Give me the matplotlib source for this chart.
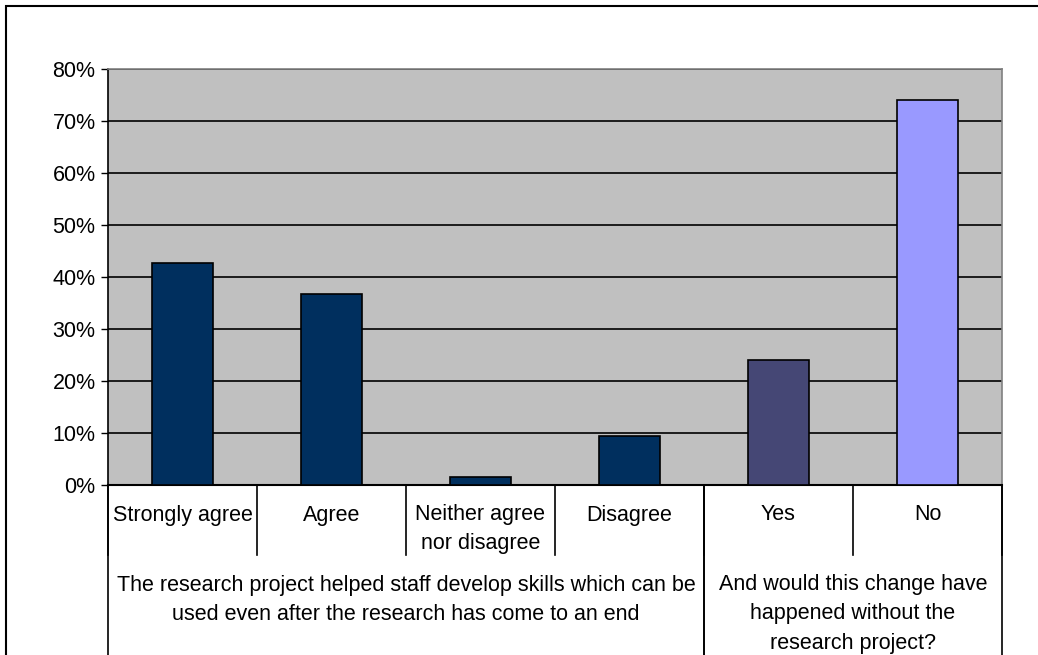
import matplotlib
matplotlib.use("Agg")
from matplotlib import pyplot as plt
from matplotlib.patches import Rectangle
from matplotlib.ticker import PercentFormatter
import numpy as np

# data
categories = ["Strongly agree", "Agree", "Neither agree\nnor disagree", "Disagree", "Yes", "No"]
values = [42.7, 36.7, 1.6, 9.4, 24.0, 74.0]
groups = ["The research project helped staff develop skills which can be\nused even after the research has come to an end",
          "And would this change have\nhappened without the\nresearch project?"]
group_sizes = [4, 2]

bar_colors = ["#002F5E", "#002F5E", "#002F5E", "#002F5E", "#454775", "#9999FF"]

plt.rcParams['font.family'] = ['Liberation Sans', 'DejaVu Sans']
fs = 15.5
ls = 1.55

fig = plt.figure(figsize=(10.38, 6.55), dpi=100)
ax = fig.add_axes([108/1038, 170/655, 894/1038, 416/655])
ax.set_facecolor("#C0C0C0")

x = np.arange(len(categories))
ax.bar(x, values, width=0.41, color=bar_colors, edgecolor="black", linewidth=1.2, zorder=3)

ax.set_xlim(-0.5, len(categories) - 0.5)
ax.set_ylim(0, 80)
ax.set_yticks(np.arange(0, 81, 10))
ax.yaxis.set_major_formatter(PercentFormatter(decimals=0))
ax.tick_params(axis="y", labelsize=fs, length=5, width=1, pad=4, colors="black")
ax.set_xticks([])
ax.grid(axis="y", color="black", linewidth=1.2, zorder=1)

for side in ["top", "right"]:
    ax.spines[side].set_color("#808080")
    ax.spines[side].set_linewidth(1.2)
ax.spines["left"].set_linewidth(1.2)
ax.spines["bottom"].set_linewidth(1.5)

# category axis drawn as a table below the plot
tr = ax.get_xaxis_transform()
px = 1 / 416  # one pixel in axes fraction (vertical)
for i in range(len(categories) + 1):
    xs = i - 0.5
    ax.plot([xs, xs], [0, -70 * px], color="black", lw=1.2, transform=tr, clip_on=False)
for i, lab in enumerate(categories):
    yc = -44 * px if "\n" in lab else -30 * px
    ax.text(i, yc, lab, transform=tr, ha="center", va="center", fontsize=fs,
            linespacing=ls, clip_on=False)

start = 0
for g, n in zip(groups, group_sizes):
    for xs in (start - 0.5, start + n - 0.5):
        ax.plot([xs, xs], [0, -175 * px], color="black", lw=1.2, transform=tr, clip_on=False)
    nlines = g.count("\n") + 1
    yc = -(101 + 14 * (nlines - 1)) * px
    ax.text(start + (n - 1) / 2, yc, g, transform=tr, ha="center", va="center",
            fontsize=fs, linespacing=ls, clip_on=False)
    start += n

# outer chart border (right and bottom edges lie outside the image)
fig.patches.append(Rectangle((6/1038, -0.1), 1.1, 1.1 - 6/655, transform=fig.transFigure,
                             fill=False, edgecolor="black", linewidth=1.5))

fig.savefig("out.png", dpi=100)
